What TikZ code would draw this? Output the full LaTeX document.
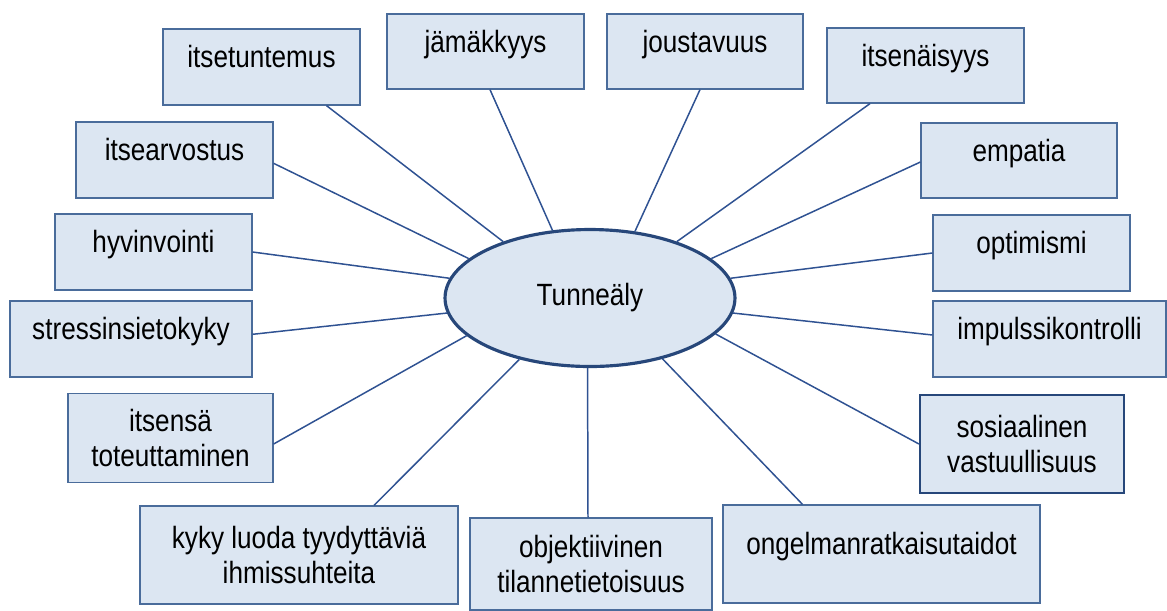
\documentclass[tikz,border=0pt]{standalone}
\usepackage{fontspec}
\setmainfont{Liberation Sans}[FakeStretch=0.85]
\usetikzlibrary{shapes.geometric}

\definecolor{boxfill}{HTML}{DCE6F2}
\definecolor{boxline}{HTML}{4A6C9B}
\definecolor{linkline}{HTML}{2F5292}
\definecolor{darkline}{HTML}{27477A}

\begin{document}
\begin{tikzpicture}[x=0.02cm, y=-0.02cm,
    box/.style={draw=boxline, fill=boxfill, line width=0.7pt, align=center,
        inner sep=0pt, font=\fontsize{17.5}{20}\selectfont},
    oneline/.style={text height=9pt, text depth=8pt},
    link/.style={draw=linkline, line width=0.85pt},
    hub/.style={ellipse, draw=darkline, fill=boxfill, line width=1.8pt,
        minimum width=5.8cm, minimum height=2.74cm, inner sep=0pt,
        font=\fontsize{17.5}{20}\selectfont}]
    \useasboundingbox (0,0) rectangle (1167,610);

    % Central ellipse
    \node[hub] (tunne) at (590,298) {Tunneäly};

    % Upper boxes
    \node[box, oneline, minimum width=3.94cm, minimum height=1.52cm] (tuntemus) at (261.5,67) {itsetuntemus};
    \node[box, oneline, minimum width=3.94cm, minimum height=1.5cm] (jamakkyys) at (485.5,51.5) {jämäkkyys};
    \node[box, oneline, minimum width=3.92cm, minimum height=1.5cm] (joustavuus) at (705,51.5) {joustavuus};
    \node[box, oneline, minimum width=3.94cm, minimum height=1.5cm] (itsenaisyys) at (925.5,65.5) {itsenäisyys};

    % Left boxes
    \node[box, oneline, minimum width=3.94cm, minimum height=1.52cm] (arvostus) at (174.5,160) {itsearvostus};
    \node[box, oneline, minimum width=3.94cm, minimum height=1.52cm] (hyvinvointi) at (153.5,252) {hyvinvointi};
    \node[box, oneline, minimum width=4.84cm, minimum height=1.52cm] (stressi) at (131,339) {stressinsietokyky};
    \node[box, minimum width=4.1cm, minimum height=1.78cm] (toteutus) at (170.5,438) {itsensä\\toteuttaminen};

    % Right boxes
    \node[box, oneline, minimum width=3.92cm, minimum height=1.5cm] (empatia) at (1019,160.5) {empatia};
    \node[box, oneline, minimum width=3.94cm, minimum height=1.52cm] (optimismi) at (1031.5,253) {optimismi};
    \node[box, oneline, minimum width=4.66cm, minimum height=1.52cm] (impulssi) at (1049.5,339) {impulssikontrolli};
    \node[box, draw=darkline, line width=1.2pt, minimum width=4.08cm, minimum height=1.96cm] (vastuu) at (1022,444) {sosiaalinen\\vastuullisuus};

    % Lower boxes
    \node[box, minimum width=6.36cm, minimum height=1.96cm] (suhteet) at (299,555) {kyky luoda tyydyttäviä\\ihmissuhteita};
    \node[box, minimum width=4.84cm, minimum height=1.84cm] (objektiivinen) at (591,564) {objektiivinen\\tilannetietoisuus};
    \node[box, oneline, minimum width=6.34cm, minimum height=1.96cm] (ongelma) at (881.5,554) {ongelmanratkaisutaidot};

    % Connectors to the ellipse
    \draw[link] ([xshift=1.3cm]tuntemus.south) -- (tunne.147);
    \draw[link] ([xshift=0.09cm]jamakkyys.south) -- (tunne.119);
    \draw[link] ([xshift=-0.1cm]joustavuus.south) -- (tunne.56.5);
    \draw[link] ([xshift=-1.11cm]itsenaisyys.south) -- (tunne.33.5);
    \draw[link] ([yshift=-0.066cm]arvostus.east) -- (tunne.162.3);
    \draw[link] (hyvinvointi.east) -- (tunne.172);
    \draw[link] ([yshift=0.094cm]stressi.east) -- (tunne.186);
    \draw[link] ([yshift=-0.12cm]toteutus.east) -- (tunne.197.6);
    \draw[link] ([yshift=-0.03cm]empatia.west) -- (tunne.18);
    \draw[link] (optimismi.west) -- (tunne.8);
    \draw[link] ([yshift=0.08cm]impulssi.west) -- (tunne.-6);
    \draw[link] (vastuu.west) -- (tunne.-16.7);
    \draw[link] ([xshift=1.5cm]suhteet.north) -- (tunne.221);
    \draw[link] ([xshift=-0.06cm]objektiivinen.north) -- (tunne.268);
    \draw[link] ([xshift=-1.58cm]ongelma.north) -- (tunne.-40);
\end{tikzpicture}
\end{document}
